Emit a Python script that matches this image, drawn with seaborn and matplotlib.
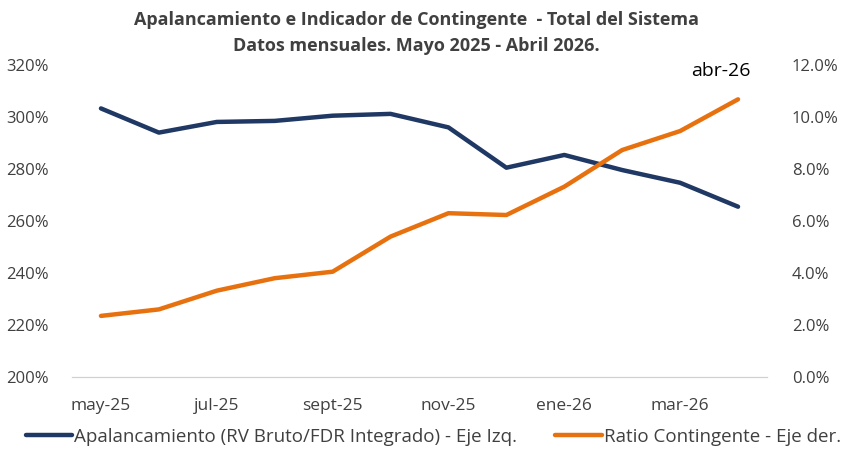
import matplotlib.pyplot as plt
import matplotlib.ticker as mticker
import seaborn as sns
import pandas as pd

meses = ["may-25", "jun-25", "jul-25", "ago-25", "sept-25", "oct-25",
         "nov-25", "dic-25", "ene-26", "feb-26", "mar-26", "abr-26"]
apalancamiento = [303.3, 294.0, 298.1, 298.5, 300.5, 301.2,
                  296.0, 280.5, 285.4, 279.6, 274.7, 265.5]
ratio_contingente = [2.35, 2.60, 3.32, 3.80, 4.05, 5.40,
                     6.30, 6.23, 7.32, 8.73, 9.46, 10.68]

df = pd.DataFrame({"mes": meses, "apal": apalancamiento, "ratio": ratio_contingente})
df["pos"] = range(len(df))

navy = "#1F3864"
orange = "#E8710F"

sns.set_style("white")
plt.rcParams["font.family"] = ["Open Sans", "DejaVu Sans"]

fig = plt.figure(figsize=(8.41, 4.49), dpi=100)
ax = fig.add_axes([72 / 841, 1 - 377 / 449, (767 - 72) / 841, (377 - 65) / 449])
ax2 = ax.twinx()

sns.lineplot(data=df, x="pos", y="apal", ax=ax, color=navy, linewidth=3.2,
             label="Apalancamiento (RV Bruto/FDR Integrado) - Eje Izq.", legend=False)
sns.lineplot(data=df, x="pos", y="ratio", ax=ax2, color=orange, linewidth=3.2,
             label="Ratio Contingente - Eje der.", legend=False)

ax.set_xlim(-0.5, len(meses) - 0.5)
ax.set_ylim(200, 320)
ax2.set_ylim(0, 12)
ax.set_yticks(range(200, 321, 20))
ax2.set_yticks(range(0, 13, 2))
ax.yaxis.set_major_formatter(mticker.FuncFormatter(lambda v, p: f"{v:.0f}%"))
ax2.yaxis.set_major_formatter(mticker.FuncFormatter(lambda v, p: f"{v:.1f}%"))

ax.set_xticks(range(0, len(meses), 2))
ax.set_xticklabels(meses[::2])
ax.set_xticks([i - 0.5 for i in range(0, len(meses) + 1, 2)], minor=True)
ax.tick_params(axis="x", which="major", length=0, pad=15, labelsize=12.5, colors="#404040")
ax.tick_params(axis="x", which="minor", length=5, color="#D0D0D0", width=1)
ax.tick_params(axis="y", length=0, labelsize=12, labelcolor="#404040", pad=17)
ax2.tick_params(axis="y", length=0, labelsize=12, labelcolor="#404040", pad=18)
ax.set_xlabel("")
ax.set_ylabel("")
ax2.set_ylabel("")

for a in (ax, ax2):
    for s in ("top", "left", "right"):
        a.spines[s].set_visible(False)
    a.spines["bottom"].set_color("#D0D0D0")

ax2.annotate("abr-26", (df["pos"].iloc[-1], df["ratio"].iloc[-1]),
             xytext=(-12, 14), textcoords="offset points",
             ha="center", va="bottom", fontsize=14, color="black")

fig.text(0.495, 0.955, "Apalancamiento e Indicador de Contingente  - Total del Sistema",
         ha="center", va="center", fontsize=13, fontweight="bold", color="#404040")
fig.text(0.495, 0.898, "Datos mensuales. Mayo 2025 - Abril 2026.",
         ha="center", va="center", fontsize=13, fontweight="bold", color="#404040")

h1, l1 = ax.get_legend_handles_labels()
h2, l2 = ax2.get_legend_handles_labels()
fig.legend(h1 + h2, l1 + l2, loc="center", bbox_to_anchor=(0.515, 0.027), ncol=2,
           frameon=False, fontsize=13.5, handlelength=2.5, handletextpad=0.1,
           columnspacing=2.0, labelcolor="#404040")

fig.savefig("out.png", dpi=100)
